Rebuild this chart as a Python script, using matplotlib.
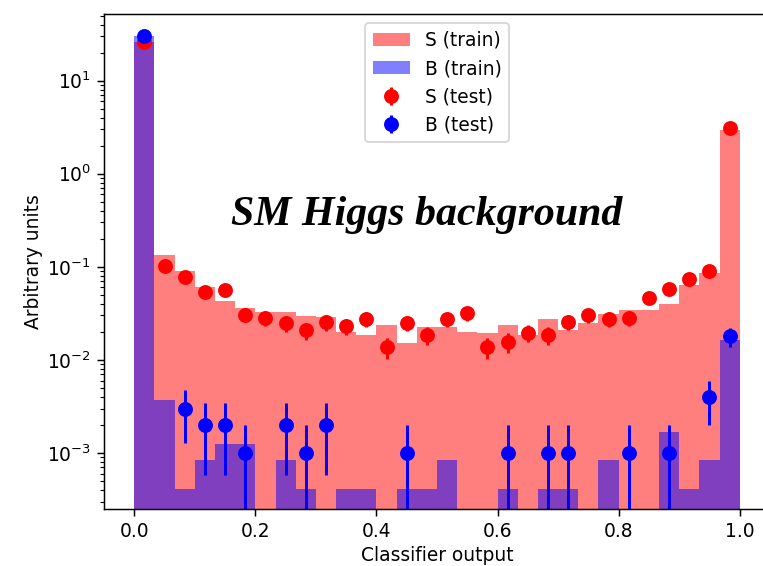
import numpy as np
import matplotlib
matplotlib.use("Agg")
import matplotlib.pyplot as plt

# Classifier output histograms (density-normalised, 30 bins on [0, 1])
n_bins = 30
edges = np.linspace(0.0, 1.0, n_bins + 1)
centers = 0.5 * (edges[:-1] + edges[1:])

s_train = [26.0, 0.134, 0.090, 0.061, 0.043, 0.036, 0.033, 0.033, 0.0295, 0.029,
           0.020, 0.0185, 0.0236, 0.0152, 0.0227, 0.0227, 0.020, 0.0196, 0.0236, 0.0185,
           0.0272, 0.0212, 0.0246, 0.031, 0.0342, 0.0342, 0.0403, 0.0636, 0.085, 2.95]

b_train = [29.97, 3.73e-3, 4.14e-4, 8.3e-4, 1.24e-3, 1.24e-3, 0.0, 8.3e-4, 4.14e-4, 0.0,
           4.14e-4, 4.14e-4, 0.0, 4.14e-4, 4.14e-4, 8.3e-4, 0.0, 0.0, 4.14e-4, 0.0,
           4.14e-4, 4.14e-4, 0.0, 8.3e-4, 0.0, 0.0, 1.66e-3, 4.14e-4, 8.3e-4, 0.0162]

s_test = [25.9, 0.102, 0.0769, 0.0538, 0.0561, 0.0305, 0.0282, 0.0248, 0.0208, 0.0253,
          0.0230, 0.0277, 0.0138, 0.025, 0.0187, 0.0275, 0.0318, 0.0138, 0.0157, 0.0196,
          0.0187, 0.0258, 0.0303, 0.0278, 0.0282, 0.0465, 0.0571, 0.0740, 0.090, 3.07]

b_test = [29.96, 0.0, 0.003, 0.002, 0.002, 0.001, 0.0, 0.002, 0.001, 0.002,
          0.0, 0.0, 0.0, 0.001, 0.0, 0.0, 0.0, 0.0, 0.001, 0.0,
          0.001, 0.001, 0.0, 0.0, 0.001, 0.0, 0.001, 0.0, 0.004, 0.018]

# per-event weight of the test samples (Poisson errors: sqrt(N) * w)
sig_event_weight = 0.0009
bkg_event_weight = 0.001

s_test = np.asarray(s_test)
b_test = np.asarray(b_test)
s_err = np.sqrt(s_test * sig_event_weight)
b_err = np.sqrt(b_test * bkg_event_weight)

fig = plt.figure(figsize=(763 / 134, 566 / 134), dpi=134)
ax = fig.add_axes([104 / 763, 57 / 566, 666 / 763, 495 / 566])

h_s = ax.hist(centers, bins=edges, weights=s_train, histtype="stepfilled",
              color="r", alpha=0.5, label="S (train)")[2][0]
h_b = ax.hist(centers, bins=edges, weights=b_train, histtype="stepfilled",
              color="b", alpha=0.5, label="B (train)")[2][0]

ms = s_test > 0
e_s = ax.errorbar(centers[ms], s_test[ms], yerr=s_err[ms], fmt="o", color="r",
                  ms=7, elinewidth=1.6, label="S (test)")
mb = b_test > 0
e_b = ax.errorbar(centers[mb], b_test[mb], yerr=b_err[mb], fmt="o", color="b",
                  ms=7, elinewidth=1.6, label="B (test)")

ax.set_yscale("log")
ax.set_xlim(-0.05, 1.05)
ax.set_ylim(2.5e-4, 52)
ax.set_xlabel("Classifier output", labelpad=2.5)
ax.set_ylabel("Arbitrary units", labelpad=2)

ax.legend(handles=[h_s, h_b, e_s, e_b], loc="upper center")

ax.text(0.485, 0.594, "SM Higgs background", transform=ax.transAxes,
        ha="center", va="center", fontsize=22.5, fontweight="bold",
        fontstyle="italic", family="Liberation Serif")

fig.savefig("out.png", dpi=134)
